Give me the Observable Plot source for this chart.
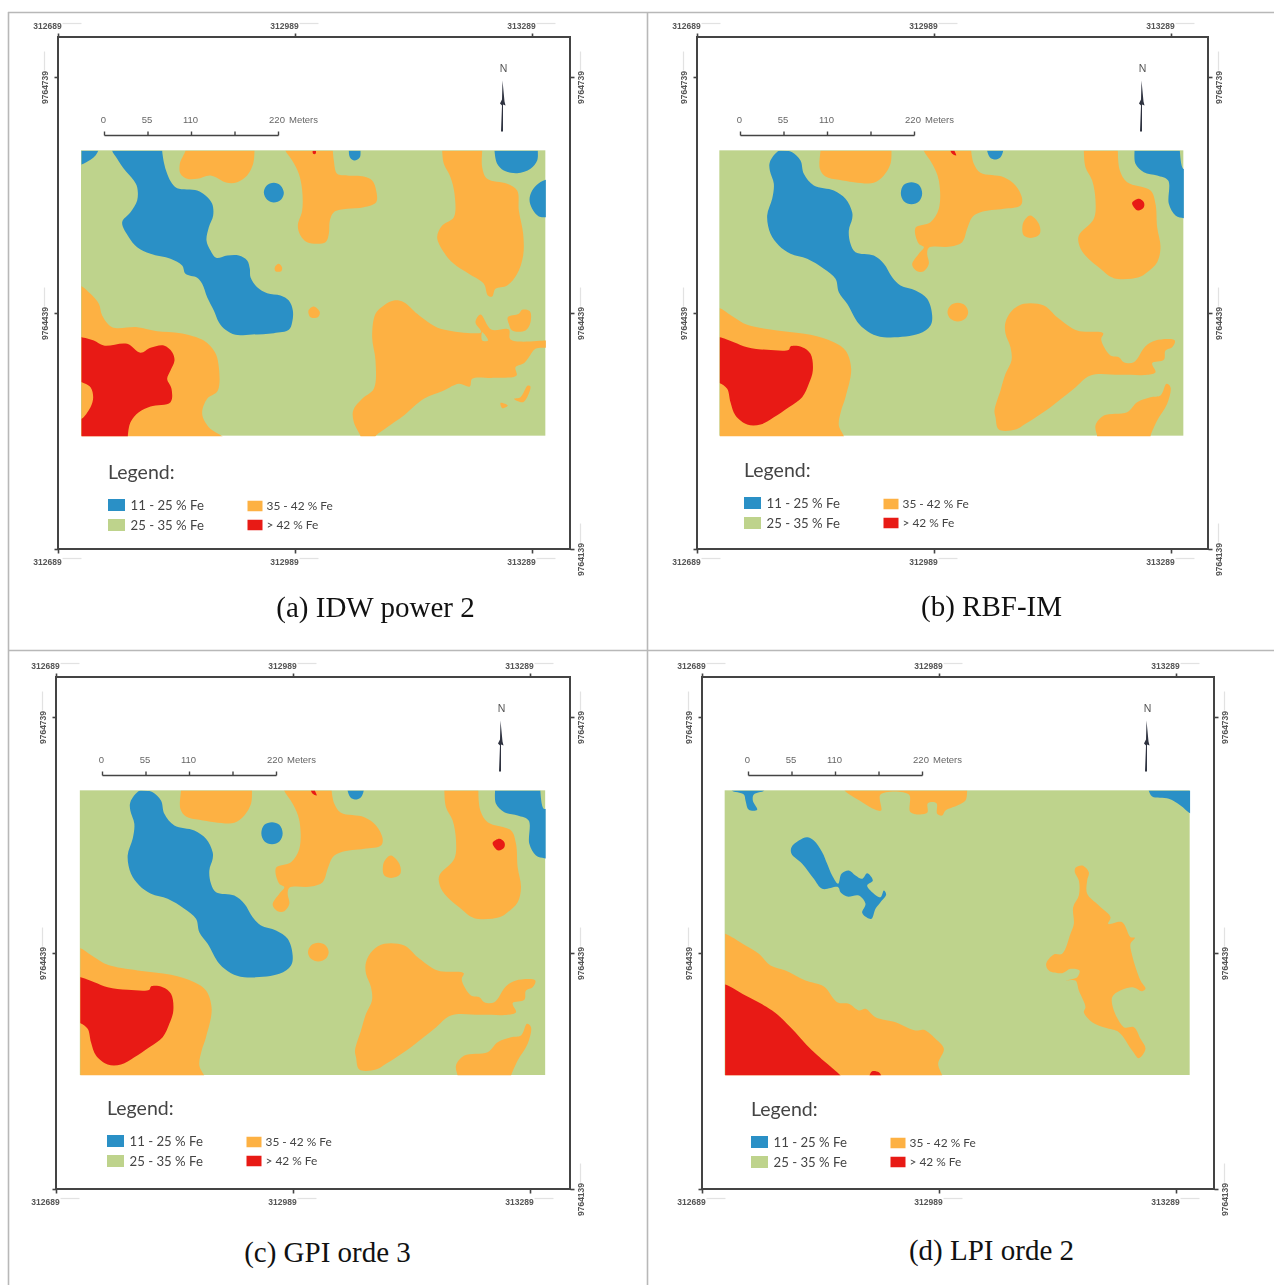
<!DOCTYPE html>
<html>
<head>
<meta charset="utf-8">
<script src="https://cdn.jsdelivr.net/npm/d3@7"></script>
<script src="https://cdn.jsdelivr.net/npm/@observablehq/plot@0.6"></script>
<style>html,body{margin:0;padding:0;background:#fff;overflow:hidden}svg{display:block}</style>
</head>
<body>
<div id="chart"></div>
<script>
// ---- Legend classes ----
const classes = ["11 - 25 % Fe", "25 - 35 % Fe", "35 - 42 % Fe", "> 42 % Fe"];
const classColors = ["#2a90c6", "#bed38c", "#fdb143", "#e81a15"];
const eastingLabels = ["312689", "312989", "313289"];
const northingLabels = ["9764739", "9764439", "9764139"];
const scaleLabels = ["0", "55", "110", "220"];
const scaleValues = [0, 55, 110, 220];
const scaleMinorTicks = [0, 55, 110, 165, 220];
const captions = ["(a) IDW power 2", "(b) RBF-IM", "(c) GPI orde 3", "(d) LPI orde 2"];

// ---- Map zones, traced in map-grid units ----
const idwBlue = [
  [[33,25],[83,25],[83,31],[75,45],[60,58],[33,72],[25,72],[25,25]],
  [[125,25],[275,25],[275,31],[280,65],[290,100],[305,130],[320,143],[380,150],[405,165],[425,190],[428,225],[415,260],[408,300],[420,330],[437,352],[470,345],[505,345],[530,360],[538,385],[540,410],[560,440],[590,458],[630,465],[655,480],[667,510],[665,545],[655,568],[610,578],[545,582],[495,583],[465,568],[445,545],[430,510],[410,470],[395,430],[380,412],[345,400],[335,375],[300,355],[240,340],[200,320],[175,290],[155,245],[180,215],[200,180],[200,140],[190,120],[160,85],[140,55],[125,31]],
  [[610,127],[630,135],[640,157],[632,177],[610,186],[590,178],[580,157],[588,136]],
  [[835,25],[870,25],[870,31],[868,50],[852,60],[838,50],[835,31]],
  [[1272,25],[1402,25],[1402,31],[1400,60],[1380,85],[1340,98],[1300,90],[1280,70],[1272,31]],
  [[1432,118],[1432,230],[1426,230],[1405,228],[1385,205],[1377,178],[1385,150],[1405,128],[1426,118]]
];
const idwOrange = [
  [[345,25],[552,25],[552,31],[548,70],[530,105],[500,125],[470,127],[420,105],[380,115],[350,115],[330,100],[328,70],[345,31]],
  [[645,25],[787,25],[787,31],[790,60],[800,100],[830,105],[880,108],[905,120],[917,150],[917,185],[880,200],[830,205],[790,215],[778,240],[775,280],[765,305],[710,305],[690,285],[682,255],[695,210],[695,150],[685,100],[665,60],[645,31]],
  [[1115,25],[1235,25],[1235,31],[1235,80],[1250,115],[1310,130],[1340,150],[1345,210],[1358,280],[1358,345],[1340,400],[1310,435],[1275,445],[1265,468],[1252,465],[1240,430],[1195,400],[1150,370],[1120,335],[1100,290],[1115,255],[1150,230],[1152,160],[1140,110],[1120,70],[1115,31]],
  [[625,370],[635,382],[632,392],[615,392],[613,380]],
  [[730,498],[748,515],[742,530],[720,530],[714,510]],
  [[970,480],[1000,485],[1040,520],[1080,550],[1110,565],[1200,578],[1232,575],[1215,545],[1230,522],[1262,567],[1315,567],[1320,597],[1426,600],[1432,600],[1432,622],[1426,622],[1395,625],[1375,650],[1360,668],[1335,680],[1338,705],[1270,712],[1205,715],[1198,738],[1165,730],[1120,750],[1060,775],[1000,825],[950,860],[915,887],[915,893],[870,893],[870,887],[850,845],[848,810],[875,775],[910,745],[915,660],[905,590],[915,520],[940,495]],
  [[1312,530],[1345,520],[1355,508],[1378,512],[1380,545],[1365,570],[1325,570],[1315,550]],
  [[1372,735],[1380,738],[1358,785],[1330,775],[1350,770]],
  [[1290,787],[1312,795],[1295,803]],
  [[33,437],[60,460],[85,490],[95,525],[125,560],[200,560],[260,572],[330,578],[400,600],[430,630],[442,660],[442,750],[410,775],[395,820],[415,860],[455,887],[460,893],[25,893],[25,437]]
];
const idwRed = [
  [[727,31],[736,31],[735,40],[728,40]],
  [[25,590],[33,590],[70,600],[100,615],[170,610],[210,637],[240,622],[280,615],[305,635],[312,660],[300,690],[290,715],[303,745],[300,785],[240,798],[205,815],[180,845],[172,887],[172,893],[25,893],[25,835],[33,835],[60,800],[68,770],[60,740],[33,725],[25,725]]
];
const idwGreen = [[[1235,575],[1253,600],[1235,600]]];

// RBF-IM and GPI zone outlines are the same within reading accuracy
const smoothBlue = [
  [[830,25],[878,25],[878,31],[870,50],[852,57],[838,50],[830,31]],
  [[205,31],[225,31],[245,35],[270,60],[280,100],[310,135],[370,150],[405,175],[425,215],[425,235],[415,270],[420,310],[435,335],[490,345],[520,370],[545,410],[570,435],[615,450],[650,475],[665,525],[660,555],[625,580],[520,590],[480,578],[445,550],[410,490],[385,455],[375,415],[340,385],[290,355],[240,340],[205,315],[180,280],[170,225],[185,175],[190,130],[178,90],[178,65]],
  [[603,125],[625,133],[635,158],[626,182],[603,191],[580,182],[571,158],[580,133]],
  [[1272,25],[1408,25],[1408,31],[1418,85],[1432,85],[1432,233],[1420,233],[1395,225],[1375,190],[1373,120],[1340,105],[1300,95],[1275,70],[1272,31]]
];
const smoothOrange = [
  [[330,25],[543,25],[543,31],[540,70],[520,105],[490,127],[430,125],[385,118],[345,108],[328,85],[330,31]],
  [[640,25],[782,25],[782,31],[790,70],[810,97],[880,110],[915,135],[935,175],[930,195],[880,205],[810,215],[785,230],[770,265],[755,305],[720,318],[655,322],[650,340],[655,370],[640,392],[620,392],[605,372],[625,340],[640,320],[625,310],[615,262],[660,245],[685,205],[685,120],[665,70],[640,31]],
  [[960,225],[985,250],[988,280],[965,292],[940,285],[936,255],[945,235]],
  [[742,487],[764,495],[773,515],[764,535],[742,543],[720,535],[711,515],[720,495]],
  [[1120,25],[1222,25],[1222,31],[1228,90],[1250,125],[1320,150],[1335,190],[1340,260],[1350,320],[1340,365],[1310,395],[1285,410],[1210,413],[1170,385],[1120,340],[1105,310],[1105,285],[1150,235],[1155,180],[1145,120],[1125,80],[1120,31]],
  [[940,490],[1000,495],[1040,530],[1100,570],[1178,578],[1172,597],[1200,645],[1225,650],[1240,665],[1270,665],[1305,617],[1335,600],[1393,600],[1385,620],[1365,630],[1360,658],[1325,668],[1335,695],[1310,703],[1230,703],[1140,705],[1090,745],[1020,800],[945,850],[915,867],[865,867],[855,830],[852,810],[870,750],[885,700],[903,660],[900,620],[885,580],[885,545],[905,510]],
  [[1368,730],[1380,740],[1370,790],[1340,840],[1320,887],[1320,893],[1160,893],[1160,887],[1155,855],[1180,825],[1250,815],[1280,785],[1320,770],[1350,765]],
  [[20,503],[28,503],[70,530],[110,553],[200,570],[300,583],[370,605],[405,630],[422,685],[405,770],[392,810],[385,855],[400,887],[400,893],[20,893]]
];
const smoothRed = [
  [[720,25],[732,25],[732,31],[737,45],[725,40],[720,31]],
  [[1265,187],[1285,175],[1300,185],[1300,200],[1283,210],[1270,200]],
  [[20,590],[28,590],[70,605],[110,620],[170,628],[235,628],[240,618],[275,620],[300,640],[307,690],[295,730],[275,770],[235,800],[190,830],[150,852],[110,852],[75,825],[60,785],[50,745],[28,728],[20,728]]
];

const lpiBlue = [
  [[50,25],[145,25],[145,31],[115,42],[112,60],[125,88],[100,88],[90,60],[85,42],[50,31]],
  [[1300,25],[1432,25],[1432,98],[1424,98],[1395,75],[1360,55],[1310,48],[1300,31]],
  [[275,170],[295,180],[320,215],[335,250],[350,285],[368,310],[378,280],[400,270],[420,285],[440,295],[455,278],[472,300],[455,315],[470,335],[495,350],[505,330],[512,342],[495,365],[480,385],[468,415],[455,412],[440,397],[450,370],[430,345],[395,348],[375,335],[368,320],[320,325],[295,295],[260,250],[228,220],[228,200],[250,180]]
];
const lpiOrange = [
  [[388,25],[755,25],[755,31],[750,60],[725,75],[690,90],[680,105],[665,100],[663,68],[637,68],[635,97],[585,95],[580,42],[495,42],[497,90],[480,88],[440,65],[388,31]],
  [[1100,255],[1120,275],[1115,300],[1115,340],[1150,375],[1185,410],[1178,430],[1220,425],[1245,470],[1258,472],[1245,490],[1250,525],[1275,600],[1290,625],[1280,632],[1250,620],[1190,650],[1225,740],[1255,740],[1275,775],[1290,805],[1270,833],[1250,810],[1210,755],[1170,742],[1130,725],[1105,695],[1110,680],[1090,630],[1080,600],[1052,600],[1085,590],[1092,570],[1065,565],[1040,578],[1000,570],[992,550],[1015,522],[1040,520],[1065,460],[1075,430],[1073,380],[1090,345],[1090,300],[1078,275],[1080,262]],
  [[21,460],[29,460],[90,495],[130,520],[165,555],[210,570],[270,600],[325,618],[365,665],[400,670],[430,690],[450,685],[480,710],[540,725],[600,750],[625,748],[660,775],[685,805],[668,850],[680,885],[680,893],[21,893]]
];
const lpiRed = [
  [[21,612],[29,612],[90,645],[170,690],[225,740],[290,810],[375,885],[380,893],[21,893]],
  [[462,893],[462,885],[470,872],[490,875],[497,885],[497,893]]
];

// ---- Page layout of the four map sheets ----
const sheets = [
  {grid:[70,140], raster:[33,1426,31,887], frame:[58,37,512], bar:104, legend:[107.5,472], cap:[375,607], blue:idwBlue, orange:idwOrange, red:idwRed, green:idwGreen},
  {grid:[710,140], raster:[28,1420,31,887], frame:[697,37,511], bar:740, legend:[743.5,470], cap:[991,606], blue:smoothBlue, orange:smoothOrange, red:smoothRed, green:[]},
  {grid:[70.5,780], raster:[28,1424,31,885], frame:[56,677,514], bar:102, legend:[106.5,1108], cap:[327,1252], blue:smoothBlue, orange:smoothOrange, red:smoothRed, green:[]},
  {grid:[715,780], raster:[29,1424,31,885], frame:[702,677,512], bar:748, legend:[750.5,1109], cap:[991,1250], blue:lpiBlue, orange:lpiOrange, red:lpiRed, green:[]}
];
const F = 512, TX = [0,237,474], TY = [40,276,512];

// ---- Tables derived from the arrays above ----
const zoneRows = [];
sheets.forEach((s,i) => {
  [["orange",2],["red",3],["blue",0],["green",1]].forEach(([k,c]) => {
    s[k].forEach((ring,j) => ring.forEach(p => zoneRows.push({
      ring:`${i}-${k}-${j}`, cls:classes[c],
      px:s.grid[0]+p[0]/3, py:s.grid[1]+p[1]/3
    })));
  });
});
const rasterRows = sheets.map(s => ({
  x1:s.grid[0]+s.raster[0]/3, x2:s.grid[0]+s.raster[1]/3,
  y1:s.grid[1]+s.raster[2]/3, y2:s.grid[1]+s.raster[3]/3, cls:classes[1]
}));
const frames = sheets.map(s => ({x1:s.frame[0],x2:s.frame[0]+s.frame[2],y1:s.frame[1],y2:s.frame[1]+F}));
const tickLinks = sheets.flatMap(s => {
  const [fx,fy,w] = s.frame;
  return [
    ...TX.flatMap(t => [{x1:fx+t,x2:fx+t,y1:fy-4,y2:fy},{x1:fx+t,x2:fx+t,y1:fy+F,y2:fy+F+4}]),
    ...TY.flatMap(t => [{x1:fx-4,x2:fx,y1:fy+t,y2:fy+t},{x1:fx+w,x2:fx+w+4,y1:fy+t,y2:fy+t}])
  ];
});
const ghostLinks = sheets.flatMap(s => {
  const [fx,fy,w] = s.frame;
  return [
    ...TX.flatMap(t => [{x1:fx+t+4,x2:fx+t+23,y1:fy-14,y2:fy-14},{x1:fx+t+4,x2:fx+t+23,y1:fy+F+9,y2:fy+F+9}]),
    ...TY.slice(0,2).map(t => ({x1:fx-14,x2:fx-14,y1:fy+t-26,y2:fy+t-7})),
    ...TY.map(t => ({x1:fx+w+10,x2:fx+w+10,y1:fy+t-26,y2:fy+t-7}))
  ];
});
const eastRows = sheets.flatMap(s => eastingLabels.flatMap((t,i) => [
  {t, x:s.frame[0]+TX[i]-11, y:s.frame[1]-11},
  {t, x:s.frame[0]+TX[i]-11, y:s.frame[1]+F+13}
]));
const northRows = sheets.flatMap(s => northingLabels.flatMap((t,i) => {
  const right = {t, x:s.frame[0]+s.frame[2]+11, y:s.frame[1]+TY[i]+10};
  return i < 2 ? [{t, x:s.frame[0]-13, y:s.frame[1]+TY[i]+10}, right] : [right];
}));
const barPx = v => v*174/220;
const barLine = sheets.map(s => ({x1:s.bar,x2:s.bar+174,y:135+(s.frame[1]-37)}));
const barTicks = sheets.flatMap(s => scaleMinorTicks.map(v => ({
  x:s.bar+barPx(v), y1:131+(s.frame[1]-37), y2:135+(s.frame[1]-37)
})));
const barText = sheets.flatMap(s => scaleLabels.map((t,i) => ({t, x:s.bar+barPx(scaleValues[i])-(i===3?1.5:1), y:119.5+(s.frame[1]-37)})));
const barUnit = sheets.map(s => ({x:s.bar+184.5, y:119.5+(s.frame[1]-37)}));
const northN = sheets.map(s => ({x:s.frame[0]+445, y:s.frame[1]+31}));
const needle = sheets.flatMap((s,i) => [[444,43],[446,64],[447,68],[444.5,67],[444.5,94],[442.5,94],[443.5,68],[441.5,66],[443.5,62]]
  .map(p => ({ring:i, x:s.frame[0]+p[0], y:s.frame[1]+p[1]})));
const legendTitles = sheets.map(s => ({x:s.legend[0], y:s.legend[1]}));
const swatchCol = [[0,33,0],[0,53,1],[139.5,34,2],[139.5,53,3]];
const swatches = sheets.flatMap(s => swatchCol.map(([dx,dy,c]) => {
  const w = c<2 ? 17 : 15, h = c<2 ? 12 : 10.5;
  return {x1:s.legend[0]+dx+.5, x2:s.legend[0]+dx+.5+w, y1:s.legend[1]+dy-h/2, y2:s.legend[1]+dy+h/2, cls:classes[c]};
}));
const legendLeft = sheets.flatMap(s => swatchCol.slice(0,2).map(([dx,dy,c]) => ({t:classes[c], x:s.legend[0]+dx+22.5, y:s.legend[1]+dy})));
const legendRight = sheets.flatMap(s => swatchCol.slice(2).map(([dx,dy,c]) => ({t:classes[c], x:s.legend[0]+dx+19, y:s.legend[1]+dy})));
const captionRows = sheets.map((s,i) => ({t:captions[i], x:s.cap[0], y:s.cap[1]}));

const soft = r => (index, scales, values, dims, context, next) => {
  const g = next(index, scales, values, dims, context);
  g.style.filter = `blur(${r}px)`;
  return g;
};
// zone outlines are kept inside their map rectangles
const clipped = (index, scales, values, dims, context, next) => {
  const g = next(index, scales, values, dims, context);
  g.setAttribute("clip-path", "url(#map-rasters)");
  const NS = "http://www.w3.org/2000/svg";
  const cp = document.createElementNS(NS, "clipPath");
  cp.setAttribute("id", "map-rasters");
  rasterRows.forEach(r => {
    const e = document.createElementNS(NS, "rect");
    e.setAttribute("x", scales.x(r.x1)); e.setAttribute("y", scales.y(r.y1));
    e.setAttribute("width", scales.x(r.x2)-scales.x(r.x1));
    e.setAttribute("height", scales.y(r.y2)-scales.y(r.y1));
    cp.appendChild(e);
  });
  const wrap = document.createElementNS(NS, "g");
  wrap.style.filter = "blur(0.45px)";
  wrap.appendChild(cp);
  wrap.appendChild(g);
  return wrap;
};

const small = {fontFamily:"Liberation Sans",fontWeight:"bold",fontSize:8.5,fill:"#555",render:soft(0.55)};
const chart = Plot.plot({
  width:1274, height:1285, margin:0,
  x:{domain:[0,1274], range:[0,1274], axis:null},
  y:{domain:[0,1285], range:[0,1285], axis:null},
  color:{domain:classes, range:classColors},
  style:{background:"#fff"},
  marks:[
    Plot.ruleX([8,647],{y1:12,y2:1285,stroke:"#b8b8b8",strokeWidth:1.6}),
    Plot.ruleY([12,650],{x1:8,x2:1274,stroke:"#b8b8b8",strokeWidth:1.6}),
    Plot.rect(rasterRows,{x1:"x1",x2:"x2",y1:"y1",y2:"y2",fill:"cls",render:soft(0.4)}),
    Plot.line(zoneRows,{x:"px",y:"py",z:"ring",fill:"cls",stroke:null,curve:"catmull-rom-closed",render:clipped}),
    Plot.rect(frames,{x1:"x1",x2:"x2",y1:"y1",y2:"y2",fill:"none",stroke:"#444",strokeWidth:2}),
    Plot.link(tickLinks,{x1:"x1",x2:"x2",y1:"y1",y2:"y2",stroke:"#444",strokeWidth:1.6}),
    Plot.link(ghostLinks,{x1:"x1",x2:"x2",y1:"y1",y2:"y2",stroke:"#e2e2e2",strokeWidth:1.2}),
    Plot.text(eastRows,{x:"x",y:"y",text:"t",...small}),
    Plot.text(northRows,{x:"x",y:"y",text:"t",rotate:-90,...small}),
    Plot.link(barLine,{x1:"x1",x2:"x2",y1:"y",y2:"y",stroke:"#444",strokeWidth:1.4}),
    Plot.link(barTicks,{x1:"x",x2:"x",y1:"y1",y2:"y2",stroke:"#444",strokeWidth:1.4}),
    Plot.text(barText,{x:"x",y:"y",text:"t",fontFamily:"Liberation Sans",fontSize:9.5,fill:"#666",render:soft(0.5)}),
    Plot.text(barUnit,{x:"x",y:"y",text:()=>"Meters",textAnchor:"start",fontFamily:"Liberation Sans",fontSize:9.5,fill:"#666",render:soft(0.5)}),
    Plot.text(northN,{x:"x",y:"y",text:()=>"N",fontFamily:"Liberation Sans",fontSize:10.5,fill:"#555",render:soft(0.4)}),
    Plot.line(needle,{x:"x",y:"y",z:"ring",fill:"#2f3340",stroke:null,curve:"linear-closed",render:soft(0.35)}),
    Plot.text(legendTitles,{x:"x",y:"y",text:()=>"Legend:",textAnchor:"start",fontFamily:"Lato",fontSize:19.5,fill:"#444",render:soft(0.3)}),
    Plot.rect(swatches,{x1:"x1",x2:"x2",y1:"y1",y2:"y2",fill:"cls",render:soft(0.3)}),
    Plot.text(legendLeft,{x:"x",y:"y",text:"t",textAnchor:"start",fontFamily:"Lato",fontSize:13.2,fill:"#444",render:soft(0.3)}),
    Plot.text(legendRight,{x:"x",y:"y",text:"t",textAnchor:"start",fontFamily:"Lato",fontSize:11.9,fill:"#444",render:soft(0.3)}),
    Plot.text(captionRows,{x:"x",y:"y",text:"t",fontFamily:"Liberation Serif",fontSize:29,fill:"#111"})
  ]
});
document.getElementById("chart").appendChild(chart);
</script>
</body>
</html>
